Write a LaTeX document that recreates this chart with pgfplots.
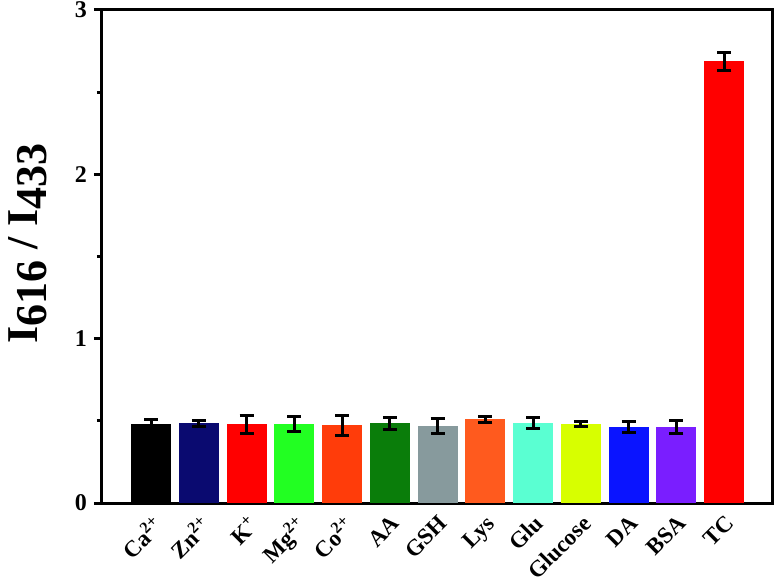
\documentclass[border=0pt]{standalone}
\usepackage{fontspec}
\setmainfont{Liberation Serif}
\usepackage{pgfplots}
\pgfplotsset{compat=1.18}

\definecolor{cCa}{HTML}{000000}
\definecolor{cZn}{HTML}{0A0A70}
\definecolor{cK}{HTML}{FF0000}
\definecolor{cMg}{HTML}{22FF22}
\definecolor{cCo}{HTML}{FF3C0A}
\definecolor{cAA}{HTML}{0A7D0A}
\definecolor{cGSH}{HTML}{879A9D}
\definecolor{cLys}{HTML}{FF5A1E}
\definecolor{cGlu}{HTML}{5AFFD2}
\definecolor{cGlc}{HTML}{D7FF00}
\definecolor{cDA}{HTML}{0A14FF}
\definecolor{cBSA}{HTML}{7A1EFF}
\definecolor{cTC}{HTML}{FF0000}

\pgfplotsset{
  sel/.style={fill=#1, draw=none, bar shift=0pt,
    error bars/.cd, y dir=both, y explicit,
    error bar style={line width=3pt, black},
    error mark options={rotate=90, mark size=7pt, line width=3pt, black}}
}

\begin{document}
\begin{tikzpicture}
\path[use as bounding box] (-102pt,-78pt) rectangle (672pt,503pt);
\begin{axis}[
  at={(0,0)}, anchor=south west,
  scale only axis,
  width=670pt, height=493pt,
  xmin=-1.03, xmax=13.0,
  ymin=0, ymax=3,
  ybar, bar width=40pt,
  axis line style={line width=3pt},
  xtick={0,...,12},
  xticklabels={Ca\textsuperscript{2+},Zn\textsuperscript{2+},K\textsuperscript{+},Mg\textsuperscript{2+},Co\textsuperscript{2+},AA,GSH,Lys,Glu,Glucose,DA,BSA,TC},
  x tick style={draw=none},
  x tick label style={rotate=45, anchor=north east, font=\fontsize{23}{25}\selectfont\bfseries, inner sep=2pt},
  ytick={0,1,2,3},
  minor ytick={0.5,1.5,2.5},
  y tick style={line width=3pt, black},
  ytick pos=left,
  tick align=outside,
  major tick length=8pt,
  minor tick length=5pt,
  y tick label style={font=\fontsize{24}{26}\selectfont\bfseries, inner sep=2pt, xshift=-5pt},
  /pgf/number format/assume math mode=true,
  ylabel={\fontsize{44}{48}\selectfont\bfseries I\raisebox{-9pt}{616} / I\raisebox{-9pt}{433}},
  ylabel style={at={(axis description cs:0,0.5)}, anchor=north, inner sep=0pt, xshift=13pt, yshift=94pt},
  clip=false,
]
\addplot[sel=cCa]  coordinates {(0,0.480) +- (0,0.030)};
\addplot[sel=cZn]  coordinates {(1,0.485) +- (0,0.018)};
\addplot[sel=cK]   coordinates {(2,0.479) +- (0,0.054)};
\addplot[sel=cMg]  coordinates {(3,0.480) +- (0,0.044)};
\addplot[sel=cCo]  coordinates {(4,0.472) +- (0,0.060)};
\addplot[sel=cAA]  coordinates {(5,0.485) +- (0,0.038)};
\addplot[sel=cGSH] coordinates {(6,0.468) +- (0,0.044)};
\addplot[sel=cLys] coordinates {(7,0.509) +- (0,0.019)};
\addplot[sel=cGlu] coordinates {(8,0.487) +- (0,0.036)};
\addplot[sel=cGlc] coordinates {(9,0.481) +- (0,0.017)};
\addplot[sel=cDA]  coordinates {(10,0.463) +- (0,0.035)};
\addplot[sel=cBSA] coordinates {(11,0.463) +- (0,0.038)};
\addplot[sel=cTC]  coordinates {(12,2.688) +- (0,0.056)};
\end{axis}
\end{tikzpicture}
\end{document}
